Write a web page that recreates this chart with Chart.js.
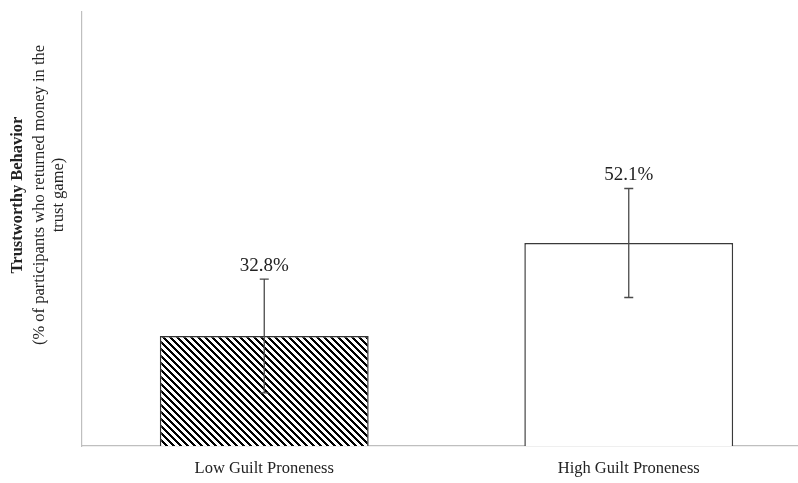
<!DOCTYPE html>
<html>
<head>
<meta charset="utf-8">
<script src="https://cdn.jsdelivr.net/npm/chart.js@4/dist/chart.umd.min.js"></script>
<style>
  html, body { margin: 0; padding: 0; background: #fff; overflow: hidden; }
  #wrap { width: 811px; height: 483px; }
</style>
</head>
<body>
<div id="wrap"><canvas id="c" width="811" height="483"></canvas></div>
<script>
// Trustworthy behaviour by guilt proneness group
const categories = ['Low Guilt Proneness', 'High Guilt Proneness'];
const trustValues = [32.8, 52.1];      // % of participants who returned money
const errorMargins = [11.8, 11.3];     // error bar half-lengths (percentage points)
const valueLabels = ['32.8%', '52.1%'];
const axisTitleLines = ['Trustworthy Behavior', '(% of participants who returned money in the', 'trust game)'];

const SERIF = '"Liberation Serif", "Times New Roman", serif';
const TEXT = '#222222';

// diagonal hatch fill (downward stripes)
function makeHatch(ctx) {
  const size = 7;
  const pc = document.createElement('canvas');
  pc.width = size; pc.height = size;
  const p = pc.getContext('2d');
  const img = p.createImageData(size, size);
  for (let y = 0; y < size; y++) {
    for (let x = 0; x < size; x++) {
      const on = (((x - y) % size) + size) % size < 3;
      const i = (y * size + x) * 4;
      const v = on ? 0 : 255;
      img.data[i] = v; img.data[i + 1] = v; img.data[i + 2] = v; img.data[i + 3] = 255;
    }
  }
  p.putImageData(img, 0, 0);
  return ctx.createPattern(pc, 'repeat');
}

const canvas = document.getElementById('c');
const ctx0 = canvas.getContext('2d');
const hatch = makeHatch(ctx0);

// error bars and value labels
const errorBarPlugin = {
  id: 'errorBars',
  afterDatasetsDraw(chart) {
    const ctx = chart.ctx;
    const meta = chart.getDatasetMeta(0);
    const y = chart.scales.y;
    ctx.save();
    meta.data.forEach((bar, i) => {
      const v = trustValues[i], e = errorMargins[i];
      const yTop = y.getPixelForValue(v + e);
      const yBot = y.getPixelForValue(v - e);
      const x = bar.x;
      ctx.strokeStyle = '#4a4a4a';
      ctx.lineWidth = 1.3;
      ctx.beginPath();
      ctx.moveTo(x, yTop); ctx.lineTo(x, yBot);
      ctx.moveTo(x - 4.5, yTop); ctx.lineTo(x + 4.5, yTop);
      ctx.moveTo(x - 4.5, yBot); ctx.lineTo(x + 4.5, yBot);
      ctx.stroke();
      ctx.fillStyle = TEXT;
      ctx.font = '19px ' + SERIF;
      ctx.textAlign = 'center';
      ctx.textBaseline = 'alphabetic';
      ctx.fillText(valueLabels[i], x, yTop - 8);
    });
    ctx.restore();
  }
};

// three-line rotated axis title (first line bold)
const axisTitlePlugin = {
  id: 'axisTitle',
  afterDraw(chart) {
    const ctx = chart.ctx;
    const cy = 195;
    const xs = [18, 40, 59];
    ctx.save();
    ctx.fillStyle = TEXT;
    ctx.textAlign = 'center';
    ctx.textBaseline = 'middle';
    axisTitleLines.forEach((line, i) => {
      ctx.save();
      ctx.translate(xs[i], cy);
      ctx.rotate(-Math.PI / 2);
      ctx.font = (i === 0 ? 'bold ' : '') + '16.5px ' + SERIF;
      ctx.fillText(line, 0, 0);
      ctx.restore();
    });
    ctx.restore();
  }
};

new Chart(canvas, {
  type: 'bar',
  data: {
    labels: categories,
    datasets: [{
      data: trustValues,
      backgroundColor: [hatch, '#ffffff'],
      borderColor: ['#333333', '#3a3a3a'],
      borderWidth: 1.5,
      borderSkipped: 'bottom',
      categoryPercentage: 1,
      barPercentage: 0.573
    }]
  },
  options: {
    responsive: false,
    animation: false,
    events: [],
    layout: { padding: { top: 12, left: 0, right: 0, bottom: 0 } },
    plugins: { legend: { display: false }, tooltip: { enabled: false } },
    scales: {
      x: {
        grid: { display: false, drawTicks: false },
        border: { color: '#bfbfbf', width: 1.2 },
        ticks: { color: TEXT, font: { family: SERIF, size: 16.5 }, padding: 13, maxRotation: 0 },
        afterFit(scale) { scale.height = 37; }
      },
      y: {
        min: 10,
        max: 100,
        grid: { display: false, drawTicks: false },
        border: { color: '#bfbfbf', width: 1.2 },
        ticks: { display: false },
        afterFit(scale) { scale.width = 82; }
      }
    }
  },
  plugins: [errorBarPlugin, axisTitlePlugin]
});
</script>
</body>
</html>
